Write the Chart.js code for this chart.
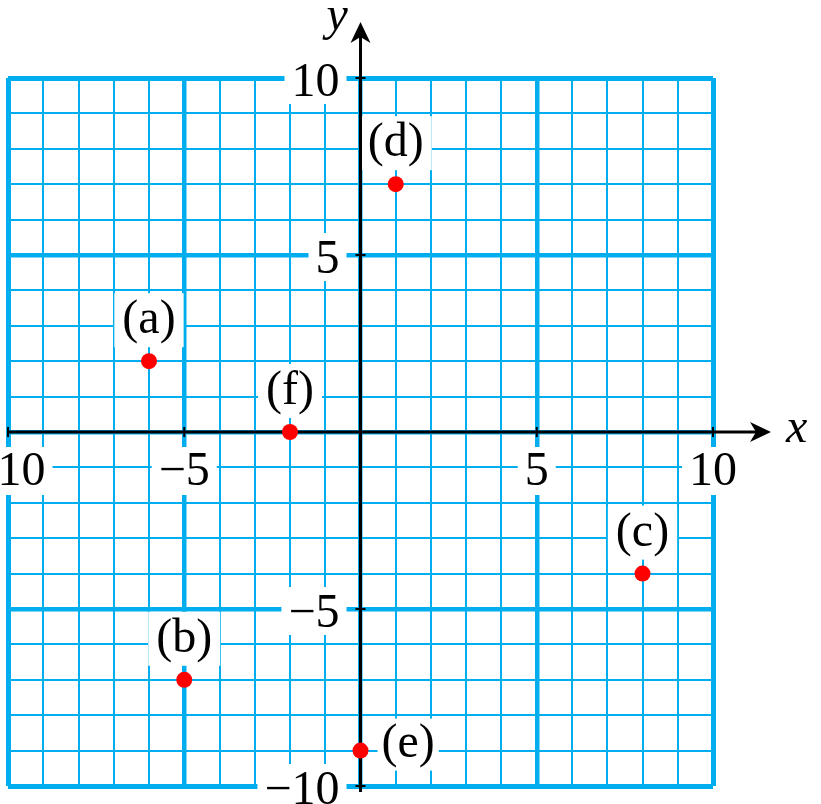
<!DOCTYPE html>
<html>
<head>
<meta charset="utf-8">
<script src="https://cdn.jsdelivr.net/npm/chart.js@4"></script>
<style>
html,body{margin:0;padding:0;background:#fff;overflow:hidden;}
canvas{display:block;}
</style>
</head>
<body>
<canvas id="c" width="821" height="804"></canvas>
<script>
// ---- data ----
const pointLabels = ['(a)', '(b)', '(c)', '(d)', '(e)', '(f)'];
const xValues = [-6, -5, 8, 1, 0, -2];
const yValues = [2, -7, -4, 7, -9, 0];
const xTickValues = [-10, -5, 5, 10];
const xTickLabels = ['−10', '−5', '5', '10'];
const yTickValues = [10, 5, -5, -10];
const yTickLabels = ['10', '5', '−5', '−10'];
const axisMin = -10;
const axisMax = 10;

const BLUE = '#00AEEF';
const FONT = '"Liberation Serif", "DejaVu Serif", serif';
const FS = 48;

function boxedText(ctx, text, x, baseline, align, opts) {
  opts = opts || {};
  ctx.font = (opts.italic ? 'italic ' : '') + FS + 'px ' + FONT;
  const w = ctx.measureText(text).width;
  let left;
  if (align === 'center') left = x - w / 2;
  else if (align === 'right') left = x - w;
  else left = x;
  if (!opts.noBox) {
    const px = opts.padX != null ? opts.padX : 8;
    const top = baseline - (opts.asc != null ? opts.asc : 38);
    const bot = baseline + (opts.desc != null ? opts.desc : 12);
    ctx.fillStyle = '#fff';
    ctx.fillRect(left - px, top, w + 2 * px, bot - top);
  }
  ctx.fillStyle = '#000';
  ctx.textAlign = 'left';
  ctx.textBaseline = 'alphabetic';
  ctx.fillText(text, left, baseline);
}

const overlay = {
  id: 'overlay',
  beforeDatasetsDraw(chart) {
    const ctx = chart.ctx;
    const xs = chart.scales.x, ys = chart.scales.y;
    const x0 = xs.getPixelForValue(0), y0 = ys.getPixelForValue(0);
    const xL = xs.getPixelForValue(axisMin), xR = xs.getPixelForValue(axisMax);
    const yB = ys.getPixelForValue(axisMin), yT = ys.getPixelForValue(axisMax);
    ctx.save();

    // tick labels with white boxes
    xTickValues.forEach((v, i) => {
      boxedText(ctx, xTickLabels[i], xs.getPixelForValue(v), y0 + 53, 'center', {asc: 38, desc: 10, padX: 7});
    });
    yTickValues.forEach((v, i) => {
      boxedText(ctx, yTickLabels[i], x0 - 21, ys.getPixelForValue(v) + 18, 'right', {asc: 40, desc: 8, padX: 7});
    });

    // point labels
    pointLabels.forEach((lab, i) => {
      const px = xs.getPixelForValue(xValues[i]);
      const py = ys.getPixelForValue(yValues[i]);
      if (lab === '(e)') {
        boxedText(ctx, lab, px + 21, py + 6, 'left', {asc: 38, desc: 14, padX: 4});
      } else {
        boxedText(ctx, lab, px, py - 28, 'center', {asc: 40, desc: 14, padX: 8});
      }
    });

    // axes
    ctx.strokeStyle = '#000';
    ctx.fillStyle = '#000';
    ctx.lineWidth = 3;
    ctx.beginPath();
    ctx.moveTo(xL, y0); ctx.lineTo(xR + 50, y0);
    ctx.moveTo(x0, yB + 6); ctx.lineTo(x0, yT - 50);
    ctx.stroke();
    // ticks
    ctx.lineWidth = 2;
    ctx.beginPath();
    xTickValues.forEach(v => {
      const p = xs.getPixelForValue(v);
      ctx.moveTo(p, y0 - 5); ctx.lineTo(p, y0 + 5);
    });
    yTickValues.forEach(v => {
      const p = ys.getPixelForValue(v);
      ctx.moveTo(x0 - 5, p); ctx.lineTo(x0 + 5, p);
    });
    ctx.stroke();
    // arrow heads
    const tipX = xR + 58, tipY = yT - 56;
    ctx.beginPath();
    ctx.moveTo(tipX, y0);
    ctx.lineTo(tipX - 21, y0 - 10);
    ctx.lineTo(tipX - 15, y0);
    ctx.lineTo(tipX - 21, y0 + 10);
    ctx.closePath(); ctx.fill();
    ctx.beginPath();
    ctx.moveTo(x0, tipY);
    ctx.lineTo(x0 - 10, tipY + 21);
    ctx.lineTo(x0, tipY + 15);
    ctx.lineTo(x0 + 10, tipY + 21);
    ctx.closePath(); ctx.fill();

    // axis names
    boxedText(ctx, 'x', xR + 73, y0 + 10, 'left', {italic: true, noBox: true});
    boxedText(ctx, 'y', x0 - 34, tipY + 8, 'left', {italic: true, noBox: true});
    ctx.restore();
  }
};

new Chart(document.getElementById('c'), {
  type: 'scatter',
  data: {
    datasets: [{
      data: xValues.map((x, i) => ({x: x, y: yValues[i]})),
      backgroundColor: '#FF0000',
      borderColor: '#FF0000',
      pointRadius: 8,
      pointHoverRadius: 8,
      borderWidth: 0,
      clip: false
    }]
  },
  options: {
    responsive: false,
    devicePixelRatio: 1,
    animation: false,
    events: [],
    layout: {padding: {left: 5, right: 108, top: 78, bottom: 18}},
    plugins: {legend: {display: false}, tooltip: {enabled: false}},
    scales: {
      x: {
        type: 'linear', min: axisMin, max: axisMax,
        ticks: {display: false, stepSize: 1},
        border: {display: false},
        grid: {
          color: BLUE, drawTicks: false,
          lineWidth: c => (c.tick && c.tick.value % 5 === 0 ? (Math.abs(c.tick.value) === 10 ? 5 : 4.5) : 2)
        }
      },
      y: {
        type: 'linear', min: axisMin, max: axisMax,
        ticks: {display: false, stepSize: 1},
        border: {display: false},
        grid: {
          color: BLUE, drawTicks: false,
          lineWidth: c => (c.tick && c.tick.value % 5 === 0 ? (Math.abs(c.tick.value) === 10 ? 5 : 4.5) : 2)
        }
      }
    }
  },
  plugins: [overlay]
});
</script>
</body>
</html>
